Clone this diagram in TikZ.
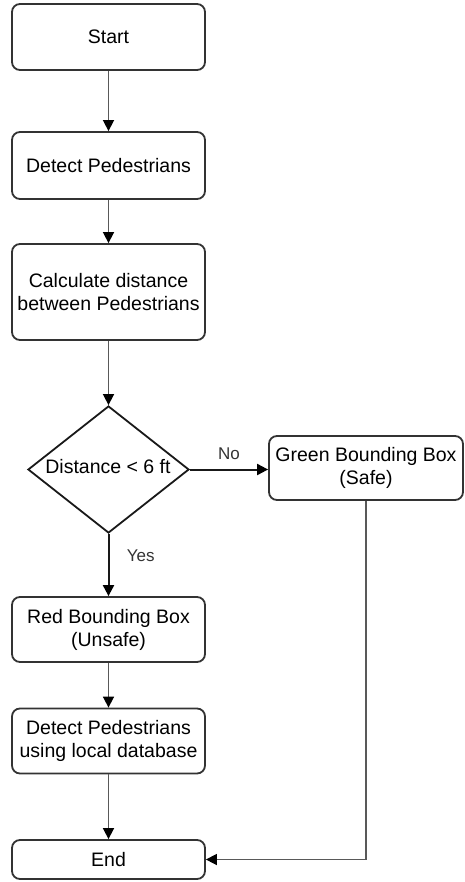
\documentclass[tikz,border=0pt]{standalone}
\usepackage{fontspec}
\setmainfont{Liberation Sans}
\usetikzlibrary{arrows.meta,shapes.geometric}
\begin{document}
\begin{tikzpicture}[x=1pt,y=-1pt,
  every node/.style={font=\fontsize{19.5}{23}\selectfont},
  proc/.style={draw=black!80, line width=1.8pt, rounded corners=8pt,
    minimum width=193pt, inner sep=0pt, align=center},
  decide/.style={draw=black!90, line width=1.8pt, diamond, inner sep=0pt,
    minimum width=161pt, minimum height=127pt},
  flow/.style={draw=black!65, line width=1.6pt,
    -{Triangle[width=11pt,length=11pt,black]}},
  strongflow/.style={flow, draw=black!90, line width=2pt},
  lbl/.style={font=\fontsize{17}{20}\selectfont, text=black!80}
]
\useasboundingbox (0,0) rectangle (464,882);

\node[proc, minimum height=66pt] (start) at (108.5,37) {Start};
\node[proc, minimum height=67pt] (detect) at (108.5,165.5) {Detect Pedestrians};
\node[proc, minimum height=96pt] (calc) at (108.5,292) {Calculate distance\\between Pedestrians};
\node[decide] (dist) at (108.5,469.5) {};
\node at (108,467) {Distance {<} 6 ft};
\node[proc, minimum width=194pt, minimum height=64pt] (green) at (366,468) {Green Bounding Box\\(Safe)};
\node[proc, minimum height=65pt] (red) at (108.5,629.5) {Red Bounding Box\\(Unsafe)};
\node[proc, minimum height=65pt] (local) at (108.5,741) {Detect Pedestrians\\using local database};
\node[proc, minimum height=39pt] (end) at (108.5,859.5) {End};

\draw[flow] (start) -- (detect);
\draw[flow] (detect) -- (calc);
\draw[flow] (calc) -- (dist.north);
\draw[strongflow] (dist.east) -- (dist.east -| green.west)
  node[lbl, midway, above=6pt] (no) {No};
\draw[strongflow] (dist.south) -- (red.north)
  node[lbl, pos=0.35, right=14pt] (yes) {Yes};
\draw[flow] (red) -- (local);
\draw[flow] (local) -- (end);
\draw[flow] (green.south) |- (end.east);
\end{tikzpicture}
\end{document}
